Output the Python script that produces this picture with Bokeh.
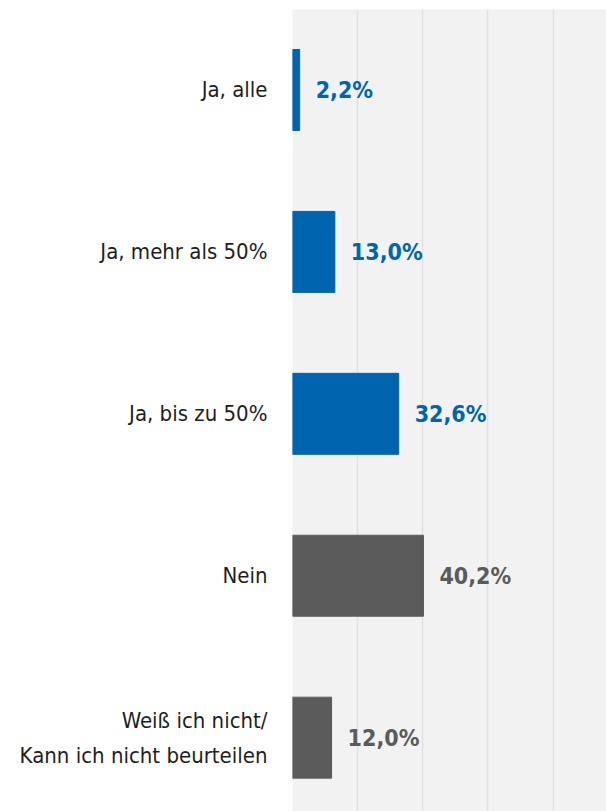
from bokeh.plotting import figure
from bokeh.models import ColumnDataSource, Range1d, FixedTicker
from bokeh.embed import file_html
from bokeh.resources import INLINE
from bokeh.core.properties import value

categories = ["Ja, alle", "Ja, mehr als 50%", "Ja, bis zu 50%", "Nein",
              "Weiß ich nicht/\nKann ich nicht beurteilen"]
values = [2.2, 13.0, 32.6, 40.2, 12.0]
labels = ["2,2%", "13,0%", "32,6%", "40,2%", "12,0%"]
colors = ["#0064ae", "#0064ae", "#0064ae", "#5b5b5b", "#5b5b5b"]
label_colors = ["#0064ae", "#0064ae", "#0064ae", "#5b5b5b", "#5b5b5b"]
grid_ticks = [0, 20, 40, 60, 80]

FONT = "DejaVu Sans Condensed"

pos = list(range(len(categories)))
src = ColumnDataSource(dict(y=pos, v=values, lab=labels, c=colors, lc=label_colors))

p = figure(width=606, height=811, output_backend="svg", toolbar_location=None,
           x_range=Range1d(0, 96.4), y_range=Range1d(4.456, -0.497),
           min_border_left=292, min_border_right=0, min_border_top=9, min_border_bottom=0,
           background_fill_color="#f2f2f2", border_fill_color="white",
           outline_line_color=None)

p.hbar(y="y", right="v", left=0, height=0.5, color="c", source=src)
p.text(x="v", y="y", text="lab", text_color="lc", source=src,
       x_offset=16, text_baseline="middle", text_align="left",
       text_font=value(FONT), text_font_size="23px",
       text_font_style="bold")

p.xaxis.visible = False
p.xgrid.ticker = FixedTicker(ticks=grid_ticks)
p.xgrid.grid_line_color = "#e2e2e2"
p.xgrid.grid_line_width = 1.5
p.ygrid.grid_line_color = None

ax = p.yaxis[0]
ax.ticker = FixedTicker(ticks=pos)
ax.major_label_overrides = {i: c for i, c in enumerate(categories)}
ax.axis_line_color = None
ax.major_tick_line_color = None
ax.minor_tick_line_color = None
ax.major_label_standoff = 19
ax.major_label_text_font = FONT
ax.major_label_text_font_size = "22px"
ax.major_label_text_line_height = 1.4
ax.major_label_text_color = "#1e1e1e"

open("out.html", "w").write(file_html(p, INLINE))
